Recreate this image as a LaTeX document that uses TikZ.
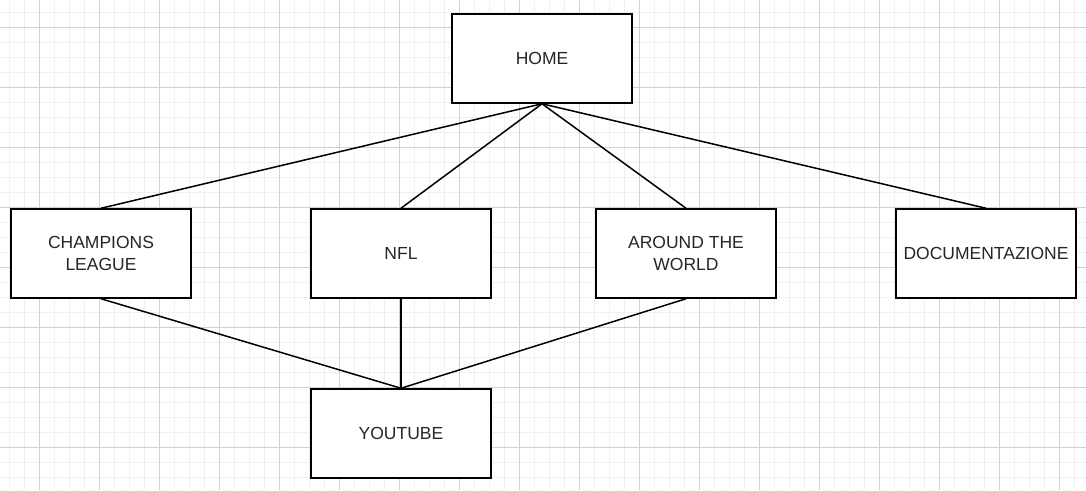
\documentclass[tikz,border=0pt]{standalone}
\usepackage{fontspec}
\setmainfont{Liberation Sans}
\begin{document}
\begin{tikzpicture}[x=1pt,y=-1pt,
  box/.style={draw=black,line width=1.5pt,fill=white,minimum width=180pt,minimum height=89pt,inner sep=0pt,align=center,font=\fontsize{17.5}{22}\selectfont,text=black!85},
  link/.style={draw=black,line width=1.5pt}]
\useasboundingbox (0,0) rectangle (1086,490);
\fill[white] (0,0) rectangle (1086,490);
\foreach \x in {9,24,...,1086} \draw[black!6,line width=1pt] (\x,0) -- (\x,490);
\foreach \y in {12,27,...,490} \draw[black!6,line width=1pt] (0,\y) -- (1086,\y);
\foreach \x in {39,99,...,1086} \draw[black!18,line width=1pt] (\x,0) -- (\x,490);
\foreach \y in {27,87,...,490} \draw[black!18,line width=1pt] (0,\y) -- (1086,\y);
\node[box] (home) at (542,58.5) {HOME};
\node[box] (cl) at (101,253.5) {CHAMPIONS\\LEAGUE};
\node[box] (nfl) at (401,253.5) {NFL};
\node[box] (atw) at (686,253.5) {AROUND THE\\WORLD};
\node[box] (doc) at (986,253.5) {DOCUMENTAZIONE};
\node[box] (yt) at (401,433.5) {YOUTUBE};
\draw[link] (home.south) -- (cl.north);
\draw[link] (home.south) -- (nfl.north);
\draw[link] (home.south) -- (atw.north);
\draw[link] (home.south) -- (doc.north);
\draw[link] (cl.south) -- (yt.north);
\draw[link] (nfl.south) -- (yt.north);
\draw[link] (atw.south) -- (yt.north);
\end{tikzpicture}
\end{document}
